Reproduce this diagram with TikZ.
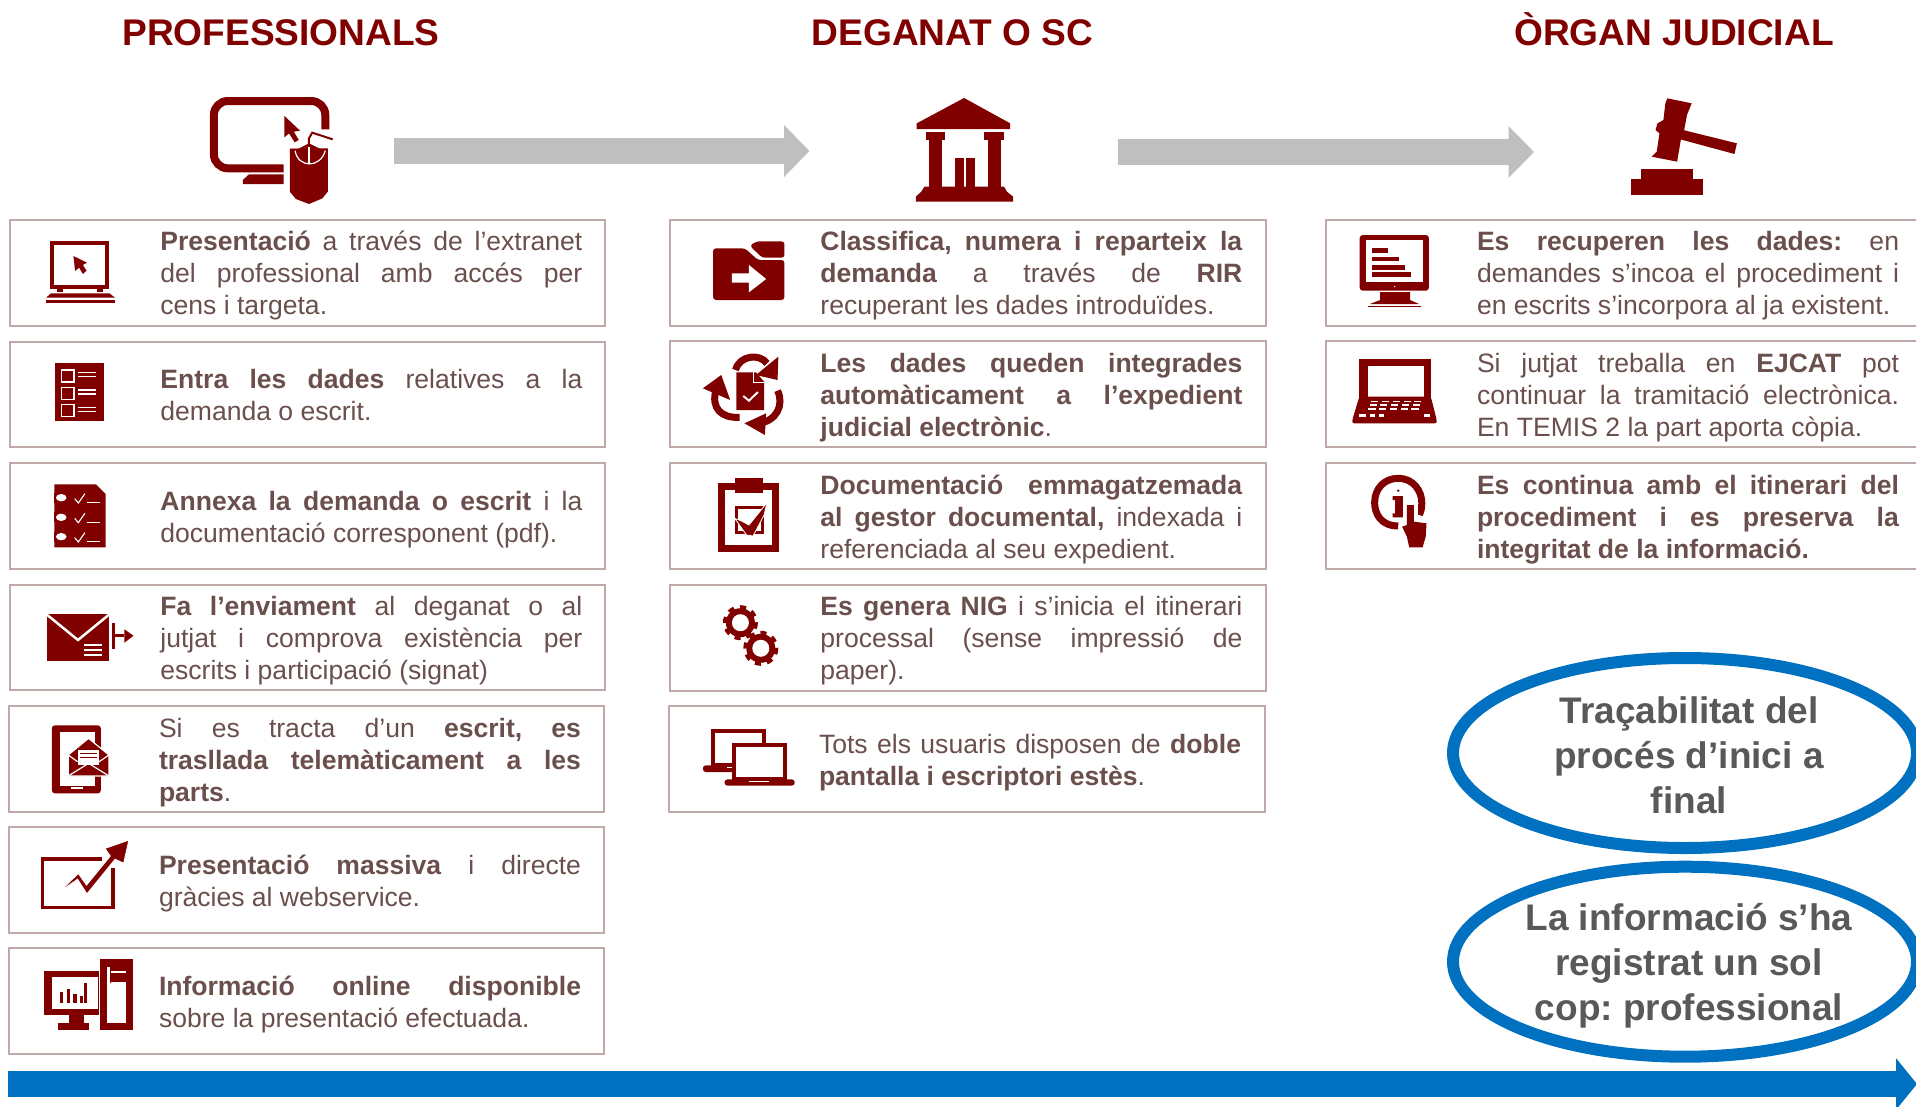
\documentclass[tikz,border=0pt]{standalone}
\usepackage{fontspec}
\setmainfont{Liberation Sans}
\usetikzlibrary{shapes.geometric,arrows.meta}
\frenchspacing
\definecolor{ic}{HTML}{800000}
\definecolor{cardline}{HTML}{BFA9A9}
\definecolor{cardtxt}{HTML}{6A4F4C}
\definecolor{flow}{HTML}{BFBFBF}
\definecolor{blu}{HTML}{0070C0}
\definecolor{ovaltxt}{HTML}{595959}
\newlength\jw
\newcommand{\natsp}{\spaceskip=0pt\xspaceskip=0pt\relax}
\newcommand{\jl}[1]{\makebox[\jw][s]{\natsp\strut#1}}
\newcommand{\lastl}[1]{\natsp\strut#1}
\newcommand{\bb}[1]{\textbf{#1}}
\newcommand{\card}[8]{%
  \pgfmathsetmacro\cw{#4-#2}\pgfmathsetmacro\ch{#5-#3}%
  \pgfmathsetmacro\cx{(#2+#4)/2}\pgfmathsetmacro\cy{(#3+#5)/2}%
  \pgfmathsetmacro\ty{\cy+3.9}%
  \setlength\jw{#7pt}%
  \node[cardbox,minimum width=\cw pt,minimum height=\ch pt] (#1) at (\cx,\cy) {};
  \node[cardtext,text width=#7pt] (#1-t) at (#6,\ty) {#8};
}
\tikzset{
  x=1pt,y=-1pt,
  cardbox/.style={draw=cardline,line width=2pt,rectangle,inner sep=0pt,outer sep=0pt},
  cardtext/.style={anchor=west,inner sep=0pt,outer sep=0pt,align=left,text=cardtxt,font=\fontsize{26.55}{32}\selectfont},
  titletext/.style={anchor=base,inner sep=0pt,text=ic,font=\fontsize{37.1}{44}\selectfont\bfseries},
  ovalbox/.style={ellipse,draw=blu,fill=white,line width=12pt,inner sep=0pt,outer sep=0pt},
  ovaltext/.style={inner sep=0pt,align=center,text=ovaltxt,font=\fontsize{37}{45}\selectfont\bfseries},
  flowarrow/.style={draw=flow,line width=25.5pt,-{Triangle[length=25.5pt,width=50.5pt]}},
  blueflow/.style={draw=blu,line width=25.5pt,-{Triangle[length=21pt,width=50.5pt]}},
  za/.style={xscale=0.40816,yscale=0.33333},
  zb/.style={xscale=0.39286,yscale=0.33333},
  ir/.style={fill=ic,draw=none},
  iw/.style={fill=white,draw=none},
}
\newcommand{\gear}[3]{%
  \fill[ic] (#1,#2) circle[radius=#3];
  \draw[ic,line width=4pt,dash pattern=on 6pt off 6.1pt] (#1,#2) circle[radius=#3+1];
  \fill[white] (#1,#2) circle[radius=#3-6];
}
\begin{document}
\begin{tikzpicture}
\useasboundingbox (0,0) rectangle (1916,1106);
\clip (0,0) rectangle (1916,1106);
% titles
\node[titletext] (t1) at (281,45) {PROFESSIONALS};
\node[titletext] (t2) at (952.5,45) {DEGANAT O SC};
\node[titletext] (t3) at (1674,45) {ÒRGAN JUDICIAL};
% flow arrows
\coordinate (f1a) at (393.5,151); \coordinate (f1b) at (809.5,151);
\coordinate (f2a) at (1118,152); \coordinate (f2b) at (1534,152);
\draw[flowarrow] (f1a) -- (f1b);
\draw[flowarrow] (f2a) -- (f2b);
\coordinate (b1a) at (8,1084); \coordinate (b1b) at (1917,1084);
\draw[blueflow] (b1a) -- (b1b);
% column 1
\card{a1}{9.8}{219.5}{605}{325.5}{160.4}{422}{\jl{\bb{Presentació} a través de l’extranet}\\\jl{del professional amb accés per}\\\lastl{cens i targeta.}}
\card{a2}{9.8}{341.5}{605}{447}{160.4}{422}{\jl{\bb{Entra les dades} relatives a la}\\\lastl{demanda o escrit.}}
\card{a3}{9.8}{463}{605}{568.5}{160.4}{422}{\jl{\bb{Annexa la demanda o escrit} i la}\\\lastl{documentació corresponent (pdf).}}
\card{a4}{9.8}{584.5}{605}{690}{160.4}{422}{\jl{\bb{Fa l’enviament} al deganat o al}\\\jl{jutjat i comprova existència per}\\\lastl{escrits i participació (signat)}}
\card{a5}{8.6}{706}{604}{812}{159}{422}{\jl{Si es tracta d’un \bb{escrit, es}}\\\jl{\bb{trasllada telemàticament a les}}\\\lastl{\bb{parts}.}}
\card{a6}{8.6}{827}{604}{933}{159}{422}{\jl{\bb{Presentació massiva} i directe}\\\lastl{gràcies al webservice.}}
\card{a7}{8.6}{948}{604}{1053.5}{159}{422}{\jl{\bb{Informació online disponible}}\\\lastl{sobre la presentació efectuada.}}
% column 2
\card{b1}{669.5}{219.5}{1265.5}{325.5}{820.4}{422}{\jl{\bb{Classifica, numera i reparteix la}}\\\jl{\bb{demanda} a través de \bb{RIR}}\\\lastl{recuperant les dades introduïdes.}}
\card{b2}{669.5}{341}{1265.5}{447}{820.4}{422}{\jl{\bb{Les dades queden integrades}}\\\jl{\bb{automàticament a l’expedient}}\\\lastl{\bb{judicial electrònic}.}}
\card{b3}{669.5}{463}{1265.5}{569}{820.4}{422}{\jl{\bb{Documentació emmagatzemada}}\\\jl{\bb{al gestor documental,} indexada i}\\\lastl{referenciada al seu expedient.}}
\card{b4}{669.5}{584.5}{1265.5}{690.5}{820.4}{422}{\jl{\bb{Es genera NIG} i s’inicia el itinerari}\\\jl{processal (sense impressió de}\\\lastl{paper).}}
\card{b5}{668.5}{706}{1264.5}{812}{819}{422}{\jl{Tots els usuaris disposen de \bb{doble}}\\\lastl{\bb{pantalla i escriptori estès}.}}
% column 3
\card{c1}{1326}{219.5}{1935}{325.5}{1477}{422}{\jl{\bb{Es recuperen les dades:} en}\\\jl{demandes s’incoa el procediment i}\\\lastl{en escrits s’incorpora al ja existent.}}
\card{c2}{1326}{341}{1935}{447}{1477}{422}{\jl{Si jutjat treballa en \bb{EJCAT} pot}\\\jl{continuar la tramitació electrònica.}\\\lastl{En TEMIS 2 la part aporta còpia.}}
\card{c3}{1326}{463}{1935}{569}{1477}{422}{\jl{\bb{Es continua amb el itinerari del}}\\\jl{\bb{procediment i es preserva la}}\\\lastl{\bb{integritat de la informació.}}}
% ovals
\node[ovalbox,minimum width=464pt,minimum height=190pt] (o1) at (1685,753) {};
\node[ovaltext] (o1t) at (1689,755.5) {\natsp Traçabilitat del\\\natsp procés d’inici a\\\natsp final};
\node[ovalbox,minimum width=464pt,minimum height=190pt] (o2) at (1685,961.7) {};
\node[ovaltext] (o2t) at (1689,965.5) {\natsp La informació s’ha\\\natsp registrat un sol\\\natsp cop: professional};
% ---------- icons from crop 1
\begin{scope}[za]
  % monitor & mouse
  \draw[ic,line width=8pt,rounded corners=14pt] (797,388)--(797,303)--(524,303)--(524,505)--(695,505);
  \fill[ir] (595,552)--(695,552)--(695,523)--(610,523)--(595,540)--cycle;
  \fill[ir] (710,445)--(803,445)--(803,575)--(790,595)--(757,612)--(725,597)--(710,575)--cycle;
  \fill[white] (710,445)--(745,432)--(745,445)--cycle;
  \fill[ir] (725,450)--(757,430)--(790,450)--(785,470)--(757,495)--(730,470)--cycle;
  \draw[white,line width=1.2pt] (723,452) .. controls (730,505) and (785,505) .. (797,452);
  \draw[white,line width=1.5pt] (757,440)--(757,492);
  \draw[ic,line width=2pt] (757,435)--(757,415)--(765,398)--(815,418);
  \fill[ir] (697,348)--(735,392)--(720,395)--(732,420)--(722,427)--(708,400)--(697,412)--cycle;
  % laptop
  \draw[ic,line width=4pt] (128,728) rectangle (263,860);
  \fill[ir] (125,880)--(268,880)--(282,893)--(113,893)--cycle;
  \fill[ir] (113,900) rectangle (282,908);
  \fill[ir] (140,866) rectangle (155,876);
  \fill[ir] (238,866) rectangle (252,876);
  \fill[ir] (180,768)--(213,788)--(203,795)--(212,812)--(203,822)--(194,803)--(184,813)--cycle;
\end{scope}
% ---------- icons from crop 2
\begin{scope}[shift={(0,340)},za]
  % list
  \fill[ir] (135,70) rectangle (256,244);
  \foreach \y in {90,142,194}{
    \draw[white,line width=1.5pt] (151,\y) rectangle (181,\y+36);
    \draw[white,line width=1.2pt] (190,\y+8)--(235,\y+8);
    \draw[white,line width=1.2pt] (190,\y+20)--(235,\y+20);
  }
  % checked doc
  \fill[ir] (133,433)--(235,433)--(259,462)--(259,622)--(133,622)--cycle;
  \foreach \y in {473,532,590}{
    \fill[white] (150,\y) ellipse[x radius=13,y radius=11];
    \fill[ic] (133,\y-15) rectangle (136,\y+15);
    \draw[white,line width=1.1pt] (183,\y+3)--(192,\y+16)--(208,\y-12);
    \draw[white,line width=1.1pt] (212,\y+15)--(245,\y+15);
  }
  % envelope
  \fill[ir] (115,822) rectangle (267,964);
  \draw[white,line width=2.5pt] (115,824)--(191,900)--(267,824);
  \foreach \y in {915,930,945}{\draw[white,line width=1.4pt] (207,\y)--(250,\y);}
  \fill[ir] (274,848) rectangle (282,926);
  \fill[ir] (282,882) rectangle (305,892);
  \fill[ir] (305,868)--(327,887)--(305,908)--cycle;
\end{scope}
% ---------- icons from crop 3
\begin{scope}[shift={(0,700)},za]
  % phone
  \fill[ir,rounded corners=3pt] (127,76) rectangle (247,280);
  \fill[iw] (146,95) rectangle (232,258);
  \fill[ic,draw=white,line width=1.2pt] (167,165)--(217,115)--(267,165)--(267,228)--(167,228)--cycle;
  \fill[white] (190,150) rectangle (243,195);
  \draw[ic,line width=.9pt] (196,160)--(237,160) (196,172)--(237,172);
  \draw[white,line width=1.2pt] (167,228)--(217,190)--(267,228);
  \draw[white,line width=1.2pt] (167,165)--(190,185) (267,165)--(243,185);
  \fill[iw] (175,262) rectangle (203,267);
  % chart
  \draw[ic,line width=3.2pt] (250,477)--(105,477)--(105,622)--(277,622)--(277,505);
  \fill[ic,draw=white,line width=1pt] (143,578)--(192,520)--(212,555)--(270,468)--(257,445)--(316,420)--(303,490)--(282,478)--(213,582)--(190,538)--cycle;
  % desktop
  \fill[ir] (246,777) rectangle (325,990);
  \fill[iw] (262,850) rectangle (308,968);
  \fill[iw] (272,813) rectangle (308,820);
  \fill[iw] (272,845) rectangle (308,852);
  \fill[iw] (262,800) rectangle (270,860);
  \fill[ir] (109,812) rectangle (243,945);
  \fill[iw] (127,832) rectangle (240,927);
  \fill[ir] (146,875) rectangle (155,908);
  \fill[ir] (163,868) rectangle (172,908);
  \fill[ir] (180,882) rectangle (188,908);
  \fill[ir] (197,888) rectangle (203,908);
  \fill[ir] (205,850) rectangle (214,908);
  \fill[ir] (170,945) rectangle (205,970);
  \fill[ir] (141,970) rectangle (217,990);
\end{scope}
% ---------- icons from crop 4
\begin{scope}[shift={(660,80)},za]
  % temple
  \fill[ir] (745,54)--(858,130)--(858,147)--(629,147)--(629,130)--cycle;
  \fill[ir] (652,155) rectangle (698,180);
  \fill[ir] (660,180) rectangle (690,320);
  \fill[ir] (795,155) rectangle (843,180);
  \fill[ir] (803,180) rectangle (835,320);
  \fill[ir] (723,235) rectangle (745,320);
  \fill[ir] (750,235) rectangle (772,320);
  \fill[ir] (648,320)--(843,320)--(850,335)--(865,350)--(865,365)--(627,365)--(627,350)--(640,335)--cycle;
  % folder
  \fill[ir,rounded corners=3pt] (130,505)--(208,505)--(240,540)--(305,540)--(305,660)--(130,660)--cycle;
  \fill[ir,rounded corners=3pt] (220,497)--(237,484)--(305,484)--(305,533)--(250,533)--cycle;
  \fill[white] (176,580)--(218,580)--(218,555)--(260,597)--(218,637)--(218,608)--(176,608)--cycle;
  % recycle
  \draw[ic,line width=7pt] (185,870) .. controls (195,825) and (245,820) .. (262,850);
  \fill[ir] (290,830)--(288,900)--(235,885)--cycle;
  \draw[ic,line width=7pt] (137,930) .. controls (125,985) and (150,1015) .. (195,1012);
  \fill[ir] (105,925)--(150,885)--(172,960)--cycle;
  \draw[ic,line width=7pt] (240,1030) .. controls (285,1025) and (305,975) .. (288,932);
  \fill[ir] (207,1030)--(260,1000)--(257,1065)--cycle;
  \fill[ir] (187,877)--(235,877)--(255,905)--(255,990)--(187,990)--cycle;
  \draw[white,line width=.8pt] (230,877)--(230,908)--(255,908);
  \draw[white,line width=2pt] (204,948)--(218,962)--(240,936);
\end{scope}
% ---------- icons from crop 5
\begin{scope}[shift={(660,450)},za]
  % clipboard
  \draw[ic,line width=7pt] (150,110) rectangle (284,295);
  \fill[ic] (183,85) rectangle (252,130);
  \draw[ic,line width=3pt] (187,172) rectangle (250,248);
  \fill[ic,draw=white,line width=.8pt] (183,205)--(198,212)--(218,225)--(262,158)--(255,195)--(228,258)--(212,255)--cycle;
  % laptops
  \draw[ic,line width=3.8pt] (129,842) rectangle (254,945);
  \fill[ir,rounded corners=3pt] (105,946) rectangle (277,966);
  \draw[white,line width=1pt] (165,951)--(215,951);
  \fill[white] (178,882) rectangle (309,990);
  \draw[ic,line width=3.8pt] (181,884) rectangle (306,988);
  \fill[ir,rounded corners=3pt] (158,988) rectangle (330,1007);
  \draw[white,line width=1pt] (218,993)--(268,993);
\end{scope}
\gear{740.4}{622.7}{14.5}
\gear{760.8}{648.3}{14.5}
% ---------- icons from crop 6
\begin{scope}[shift={(1300,80)},zb]
  % gavel
  \fill[ir] (935,55)--(997,70)--(985,105)--(978,150)--(970,175)--(960,245)--(895,230)--(908,215)--(915,160)--(905,150)--(910,130)--(925,120)--(930,70)--cycle;
  \fill[ir] (975,150)--(1112,190)--(1106,222)--(968,178)--cycle;
  \fill[ir] (868,266) rectangle (1000,297);
  \fill[ir] (843,297) rectangle (1025,345);
  % monitor
  \fill[ir,rounded corners=3pt] (152,465) rectangle (328,632);
  \fill[iw] (168,481) rectangle (313,606);
  \fill[ir] (183,505) rectangle (224,518);
  \fill[ir] (183,530) rectangle (252,543);
  \fill[ir] (183,556) rectangle (267,569);
  \fill[ir] (183,577) rectangle (283,590);
  \fill[white] (241,620) circle[radius=2pt];
  \fill[ir] (204,636)--(280,636)--(280,660)--(303,672)--(178,672)--(204,660)--cycle;
  \fill[ir] (174,677) rectangle (307,681);
  % laptop
  \fill[ir] (151,837) rectangle (333,960);
  \fill[iw] (172,857) rectangle (316,950);
  \fill[ir,rounded corners=2pt] (151,950)--(333,950)--(348,1020)--(348,1030)--(133,1030)--(133,1020)--cycle;
  \foreach \x in {185,212,240,268,295}{
    \fill[white] (\x-4,962) rectangle (\x+14,967);
    \fill[white] (\x-8,972) rectangle (\x+10,977);
    \fill[white] (\x-12,984) rectangle (\x+8,989);
  }
  \fill[white] (150,1003) rectangle (168,1012);
  \fill[white] (178,1003) rectangle (192,1012);
  \fill[white] (200,1003) rectangle (214,1012);
  \fill[white] (315,1003) rectangle (331,1012);
  % info hand
  \draw[ic,line width=7pt] (250,1338) .. controls (205,1338) and (190,1300) .. (190,1268) .. controls (190,1225) and (215,1195) .. (250,1195) .. controls (290,1195) and (310,1235) .. (310,1268) .. controls (310,1285) and (308,1295) .. (304,1305);
  \fill[ic] (250,1232) circle[radius=3.8pt];
  \fill[ir] (236,1248)--(262,1248)--(262,1300)--(268,1300)--(268,1312)--(236,1312)--(236,1300)--(242,1300)--(242,1260)--(236,1260)--cycle;
  \fill[white] (262,1268) rectangle (300,1340);
  \fill[ir] (272,1275) -- (290,1275) -- (290,1325)--(322,1330)--(320,1370)--(312,1402)--(278,1402)--(272,1370)--(260,1340)--(272,1335)--cycle;
\end{scope}
\end{tikzpicture}
\end{document}
